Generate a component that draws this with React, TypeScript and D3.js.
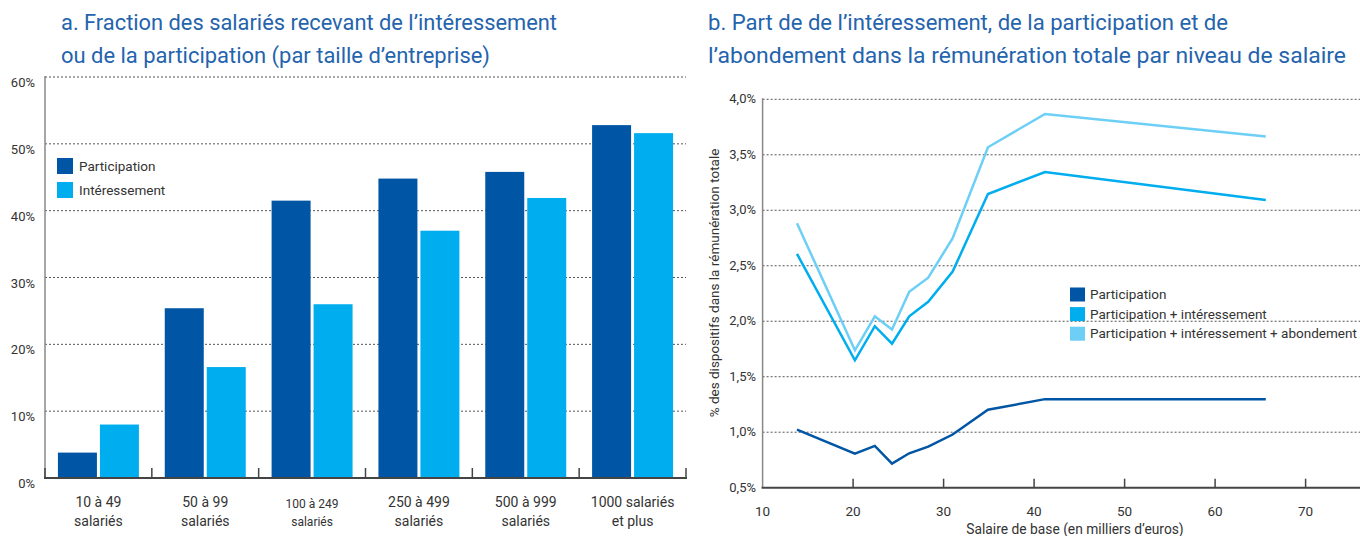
import React from "react";
import * as d3 from "d3";

const categories = [
  ["10 à 49", "salariés"],
  ["50 à 99", "salariés"],
  ["100 à 249", "salariés"],
  ["250 à 499", "salariés"],
  ["500 à 999", "salariés"],
  ["1000 salariés", "et plus"],
];
const participationBars = [3.8, 25.4, 41.5, 44.8, 45.8, 52.8];
const interessementBars = [8.0, 16.6, 26.0, 37.0, 41.9, 51.6];
const leftTicks = [0, 10, 20, 30, 40, 50, 60];

const salaries = [13.8, 20.2, 22.4, 24.3, 26.2, 28.3, 31.0, 34.9, 41.2, 65.6];
const partLine = [1.024, 0.807, 0.877, 0.717, 0.81, 0.87, 0.979, 1.202, 1.298, 1.298];
const partIntLine = [2.607, 1.648, 1.955, 1.798, 2.045, 2.175, 2.447, 3.147, 3.345, 3.093];
const partIntAbondLine = [2.883, 1.738, 2.045, 1.925, 2.265, 2.393, 2.748, 3.568, 3.868, 3.664];
const rightYTicks = [0.5, 1.0, 1.5, 2.0, 2.5, 3.0, 3.5, 4.0];
const rightXTicks = [10, 20, 30, 40, 50, 60, 70];

const DARK = "#0055a4";
const MID = "#00adee";
const LIGHT = "#6dcff6";
const TITLE = "#2463ad";
const TXT = "#333";
const FONT = "Roboto, 'Liberation Sans', sans-serif";

export default function App() {
  // Left chart
  const lx0 = 45, lx1 = 686, ly0 = 478, ly1 = 77;
  const xBand = d3.scaleBand<number>().domain(d3.range(categories.length)).range([lx0, lx1]).paddingInner(0).paddingOuter(0);
  const yL = d3.scaleLinear().domain([0, 60]).range([ly0, ly1]);
  const bw = xBand.bandwidth();
  const barW = bw * 0.365;
  const gap = bw * 0.028;
  const groupW = barW * 2 + gap;

  // Right chart
  const rx0 = 762.6, rx1 = 1360, ry0 = 487.7, ry1 = 99.3;
  const xR = d3.scaleLinear().domain([10, 10 + (rx1 - rx0) / 9.05]).range([rx0, rx1]);
  const yR = d3.scaleLinear().domain([0.5, 4.0]).range([ry0, ry1]);
  const line = (vals: number[]) =>
    d3.line<number>().x((_, i) => xR(salaries[i])).y((v) => yR(v))(vals) || "";

  const legendR = [
    { label: "Participation", color: DARK },
    { label: "Participation + intéressement", color: MID },
    { label: "Participation + intéressement + abondement", color: LIGHT },
  ];

  return (
    <svg width={1360} height={536} style={{ position: "absolute", left: 0, top: 0, fontFamily: FONT }}>
      {/* Titles */}
      <text x={61} y={30} fontSize={21.5} fill={TITLE} textLength={496} lengthAdjust="spacingAndGlyphs">a. Fraction des salariés recevant de l’intéressement</text>
      <text x={61} y={63} fontSize={21.5} fill={TITLE} textLength={429} lengthAdjust="spacingAndGlyphs">ou de la participation (par taille d’entreprise)</text>
      <text x={708} y={30} fontSize={21.5} fill={TITLE} textLength={520} lengthAdjust="spacingAndGlyphs">b. Part de de l’intéressement, de la participation et de</text>
      <text x={708} y={63} fontSize={21.5} fill={TITLE} textLength={638} lengthAdjust="spacingAndGlyphs">l’abondement dans la rémunération totale par niveau de salaire</text>

      {/* Left grid */}
      {leftTicks.map((t) => (
        <g key={t}>
          {t > 0 && (
            <line x1={lx0} x2={lx1} y1={yL(t)} y2={yL(t)} stroke="#555" strokeWidth={1} strokeDasharray="2,2" />
          )}
          <text x={35} y={yL(t) + 10} fontSize={13} fill={TXT} textAnchor="end">{t}%</text>
        </g>
      ))}
      {/* Bars */}
      {categories.map((c, i) => {
        const gx = (xBand(i) as number) + (bw - groupW) / 2;
        return (
          <g key={i}>
            <rect x={gx} y={yL(participationBars[i])} width={barW} height={ly0 - yL(participationBars[i])} fill={DARK} />
            <rect x={gx + barW + gap} y={yL(interessementBars[i])} width={barW} height={ly0 - yL(interessementBars[i])} fill={MID} />
            <text x={(xBand(i) as number) + bw / 2} y={i === 2 ? 508 : 507} fontSize={i === 2 ? 12 : 14} fill={TXT} textAnchor="middle">{c[0]}</text>
            <text x={(xBand(i) as number) + bw / 2} y={526} fontSize={i === 2 ? 12 : 14} fill={TXT} textAnchor="middle">{c[1]}</text>
          </g>
        );
      })}
      {/* Left axes */}
      <line x1={lx0} x2={lx0} y1={ly1 - 1} y2={ly0} stroke="#888" strokeWidth={1.5} />
      <line x1={lx0 - 1} x2={lx1 + 1} y1={ly0} y2={ly0} stroke="#444" strokeWidth={2} />
      {d3.range(categories.length + 1).map((i) => {
        const x = lx0 + i * bw;
        return <line key={i} x1={x} x2={x} y1={ly0 - 10} y2={ly0} stroke="#444" strokeWidth={1.5} />;
      })}
      {/* Left legend */}
      <rect x={57} y={158} width={16} height={16} fill={DARK} />
      <text x={79} y={171} fontSize={13.5} fill={TXT}>Participation</text>
      <rect x={57} y={182} width={16} height={16} fill={MID} />
      <text x={79} y={195} fontSize={13.5} fill={TXT}>Intéressement</text>

      {/* Right grid */}
      {rightYTicks.map((t) => (
        <g key={t}>
          {t > 0.5 && (
            <line x1={rx0} x2={rx1} y1={yR(t)} y2={yR(t)} stroke="#555" strokeWidth={1} strokeDasharray="2,2" />
          )}
          <text x={756} y={yR(t) + 4} fontSize={13} fill={TXT} textAnchor="end">{d3.format(".1f")(t).replace(".", ",")}%</text>
        </g>
      ))}
      {/* Lines */}
      <path d={line(partIntAbondLine)} fill="none" stroke={LIGHT} strokeWidth={2.5} />
      <path d={line(partIntLine)} fill="none" stroke={MID} strokeWidth={2.5} />
      <path d={line(partLine)} fill="none" stroke={DARK} strokeWidth={2.5} />
      {/* Right axes */}
      <line x1={rx0} x2={rx0} y1={ry1 - 1} y2={ry0} stroke="#888" strokeWidth={1.5} />
      <line x1={rx0 - 1} x2={rx1} y1={ry0} y2={ry0} stroke="#444" strokeWidth={2} />
      {rightXTicks.map((t) => (
        <g key={t}>
          {t > 10 && <line x1={xR(t)} x2={xR(t)} y1={ry0 - 9} y2={ry0} stroke="#444" strokeWidth={1.5} />}
          <text x={xR(t)} y={516} fontSize={13.5} fill={TXT} textAnchor="middle">{t}</text>
        </g>
      ))}
      <text x={1075} y={534} fontSize={13.8} fill={TXT} textAnchor="middle">Salaire de base (en milliers d’euros)</text>
      <text transform={`translate(719,283) rotate(-90)`} fontSize={13.5} fill={TXT} textAnchor="middle">% des dispositifs dans la rémunération totale</text>
      {/* Right legend */}
      {legendR.map((l, i) => (
        <g key={i}>
          <rect x={1070} y={287.5 + i * 19.6} width={15} height={14} fill={l.color} />
          <text x={1090} y={299 + i * 19.6} fontSize={13.5} fill={TXT}>{l.label}</text>
        </g>
      ))}
    </svg>
  );
}
